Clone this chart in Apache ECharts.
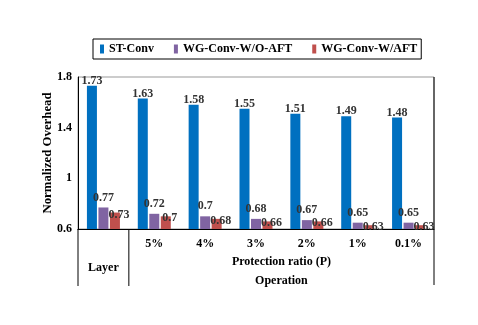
<!DOCTYPE html>
<html>
	<head>
		<meta charset="utf-8" />
		<title>overhead</title>
		<script src="https://cdn.jsdelivr.net/npm/echarts@6/dist/echarts.min.js"></script>
	</head>
	<body style="margin:0;">
		<div id="chart" style="width:478px;height:325px;"></div>
	</body>
	<script type="text/javascript">

	var categories = ['Layer', '5%', '4%', '3%', '2%', '1%', '0.1%'];
	var tickLabels = ['', '5%', '4%', '3%', '2%', '1%', '0.1%'];
	var stConv = [1.73, 1.63, 1.58, 1.55, 1.51, 1.49, 1.48];
	var wgNoAft = [0.77, 0.72, 0.70, 0.68, 0.67, 0.65, 0.65];
	var wgAft = [0.73, 0.70, 0.68, 0.66, 0.66, 0.63, 0.63];

	var serif = 'Liberation Serif';
	var gLeft = 78, gRight = 44, gTop = 77, gBottom = 96;
	var W = 478, H = 325;
	var catW = (W - gLeft - gRight) / categories.length;
	var axisY = H - gBottom;
	var rightX = W - gRight;

	var labelBase = {
		show: true,
		fontFamily: serif,
		fontWeight: 'bold',
		fontSize: 12,
		color: '#333'
	};

	var myChart = echarts.init(document.getElementById('chart'));
	var option = {
		backgroundColor: '#fff',
		legend: {
			top: 39,
			left: 93,
			icon: 'rect',
			itemWidth: 4,
			itemHeight: 9,
			itemGap: 20,
			borderColor: '#000',
			borderWidth: 1,
			padding: [4, 4, 4, 7],
			textStyle: {fontFamily: serif, fontWeight: 'bold', fontSize: 12, color: '#000'},
			data: ['ST-Conv', 'WG-Conv-W/O-AFT', 'WG-Conv-W/AFT']
		},
		grid: {
			left: gLeft,
			right: gRight,
			top: gTop,
			bottom: gBottom,
			show: true,
			borderColor: '#999',
			borderWidth: 1
		},
		xAxis: {
			type: 'category',
			data: tickLabels,
			axisTick: {show: false},
			axisLine: {lineStyle: {color: '#000', width: 1}},
			axisLabel: {fontFamily: serif, fontWeight: 'bold', fontSize: 12, color: '#000', margin: 9}
		},
		yAxis: {
			type: 'value',
			min: 0.6,
			max: 1.8,
			interval: 0.4,
			name: 'Normalized Overhead',
			nameLocation: 'middle',
			nameGap: 24,
			nameMoveOverlap: false,
			nameTextStyle: {fontFamily: serif, fontWeight: 'bold', fontSize: 12.8, color: '#000'},
			axisLine: {show: true, lineStyle: {color: '#000', width: 1}},
			axisTick: {show: false},
			splitLine: {show: false},
			axisLabel: {fontFamily: serif, fontWeight: 'bold', fontSize: 12, color: '#000', margin: 6}
		},
		series: [
			{
				name: 'ST-Conv',
				type: 'bar',
				barWidth: 10,
				barGap: '15%',
				itemStyle: {color: '#0070C0'},
				label: Object.assign({position: 'top', distance: -1}, labelBase),
				data: stConv
			},
			{
				name: 'WG-Conv-W/O-AFT',
				type: 'bar',
				barWidth: 10,
				barGap: '15%',
				itemStyle: {color: '#8064A2'},
				label: Object.assign({position: 'top', distance: 4}, labelBase),
				data: wgNoAft
			},
			{
				name: 'WG-Conv-W/AFT',
				type: 'bar',
				barWidth: 10,
				barGap: '15%',
				itemStyle: {color: '#C0504D'},
				label: Object.assign({position: 'top', distance: 0, offset: [4, 8]}, labelBase),
				data: wgAft
			}
		],
		graphic: [
			// table lines under the axis
			{type: 'line', shape: {x1: gLeft, y1: axisY, x2: gLeft, y2: axisY + 57}, style: {stroke: '#000', lineWidth: 1}},
			{type: 'line', shape: {x1: gLeft + catW, y1: axisY, x2: gLeft + catW, y2: axisY + 57}, style: {stroke: '#000', lineWidth: 1}},
			{type: 'line', shape: {x1: rightX, y1: gTop, x2: rightX, y2: axisY + 56}, style: {stroke: '#000', lineWidth: 1}},
			{type: 'text', style: {text: 'Layer', x: gLeft + catW / 2, y: axisY + 39, align: 'center', verticalAlign: 'middle', font: 'bold 12px "Liberation Serif"', fill: '#000'}},
			{type: 'text', style: {text: 'Protection ratio (P)', x: (gLeft + catW + rightX) / 2, y: axisY + 33, align: 'center', verticalAlign: 'middle', font: 'bold 12px "Liberation Serif"', fill: '#000'}},
			{type: 'text', style: {text: 'Operation', x: (gLeft + catW + rightX) / 2, y: axisY + 52, align: 'center', verticalAlign: 'middle', font: 'bold 12px "Liberation Serif"', fill: '#000'}}
		]
	};
	myChart.setOption(option);

	</script>
</html>
